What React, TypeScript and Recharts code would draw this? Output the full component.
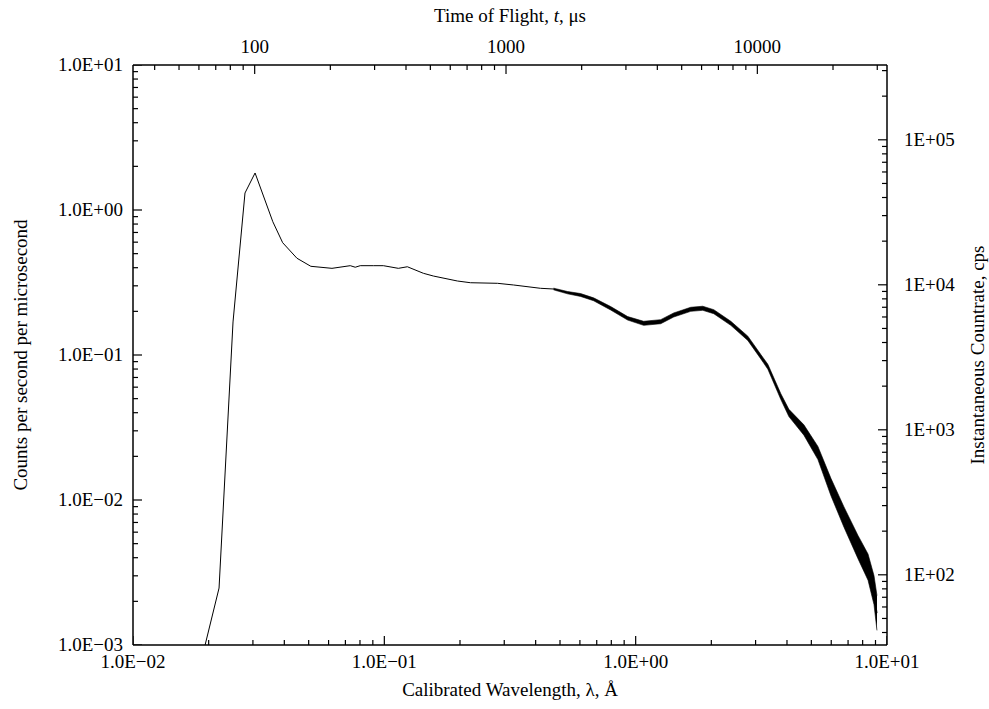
import React from 'react';
import { ComposedChart, Line, Area, Scatter, XAxis, YAxis, Label } from 'recharts';

// wavelength (Å) and counts per second per microsecond
const lambda = [
  0.01936, 0.022, 0.025, 0.0279, 0.0306, 0.036, 0.0394, 0.0449, 0.051, 0.0619,
  0.0732, 0.0766, 0.0802, 0.0904, 0.0991, 0.1137, 0.1235, 0.143, 0.1567, 0.1953,
  0.2202, 0.2819, 0.3265, 0.4182, 0.4713, 0.5359, 0.6037, 0.6802, 0.7954, 0.9292,
  1.076, 1.258, 1.417, 1.656, 1.849, 2.046, 2.391, 2.794, 3.148, 3.357,
  3.782, 4.071, 4.67, 5.311, 5.983, 6.742, 7.665, 8.404, 8.876, 9.124,
];
const counts = [
  0.001, 0.00247, 0.169, 1.31, 1.8, 0.83, 0.595, 0.465, 0.409, 0.396,
  0.413, 0.403, 0.413, 0.413, 0.413, 0.396, 0.406, 0.366, 0.3505, 0.3238,
  0.3151, 0.3122, 0.304, 0.2884, 0.2852, 0.269, 0.2594, 0.2422, 0.21, 0.1791,
  0.1654, 0.1697, 0.1888, 0.2066, 0.21, 0.1989, 0.1654, 0.1303, 0.0973, 0.083,
  0.0516, 0.0398, 0.0304, 0.0211, 0.0123, 0.00763, 0.00474, 0.00345, 0.00239, 0.00166,
];
// spread of the noisy trace (low / high edge)
const bandLo = [
  null, null, null, null, null, null, null, null, null, null,
  null, null, null, null, null, null, null, null, null, null,
  null, null, null, null, 0.2813, 0.2641, 0.2535, 0.2367, 0.2043, 0.1742,
  0.1601, 0.1643, 0.1828, 0.2, 0.2033, 0.1926, 0.1601, 0.1259, 0.094, 0.0798,
  0.0493, 0.0376, 0.028, 0.019, 0.0107, 0.00649, 0.00394, 0.0028, 0.0019, 0.00126,
];
const bandHi = [
  null, null, null, null, null, null, null, null, null, null,
  null, null, null, null, null, null, null, null, null, null,
  null, null, null, null, 0.2892, 0.274, 0.2654, 0.2478, 0.2159, 0.1841,
  0.1708, 0.1753, 0.195, 0.2134, 0.2169, 0.2054, 0.1708, 0.1349, 0.1007, 0.0863,
  0.054, 0.0422, 0.033, 0.0234, 0.0141, 0.00896, 0.0057, 0.00424, 0.00301, 0.00219,
];

const lamTicks = [
  0.01, 0.02, 0.03, 0.04, 0.05, 0.06, 0.07, 0.08, 0.09,
  0.1, 0.2, 0.3, 0.4, 0.5, 0.6, 0.7, 0.8, 0.9,
  1, 2, 3, 4, 5, 6, 7, 8, 9, 10,
];
const lamMajor = [0.01, 0.1, 1, 10];
const lamLabels = ['1.0E\u221202', '1.0E\u221201', '1.0E+00', '1.0E+01'];

const cntTicks = [
  0.001, 0.002, 0.003, 0.004, 0.005, 0.006, 0.007, 0.008, 0.009,
  0.01, 0.02, 0.03, 0.04, 0.05, 0.06, 0.07, 0.08, 0.09,
  0.1, 0.2, 0.3, 0.4, 0.5, 0.6, 0.7, 0.8, 0.9,
  1, 2, 3, 4, 5, 6, 7, 8, 9, 10,
];
const cntMajor = [0.001, 0.01, 0.1, 1, 10];
const cntLabels = ['1.0E\u221203', '1.0E\u221202', '1.0E\u221201', '1.0E+00', '1.0E+01'];

const tofTicks = [
  40, 50, 60, 70, 80, 90, 100, 200, 300, 400, 500, 600, 700, 800, 900,
  1000, 2000, 3000, 4000, 5000, 6000, 7000, 8000, 9000, 10000, 20000, 30000,
];
const tofMajor = [100, 1000, 10000];
const tofLabels = ['100', '1000', '10000'];

const cpsTicks = [
  40, 50, 60, 70, 80, 90, 100, 200, 300, 400, 500, 600, 700, 800, 900,
  1000, 2000, 3000, 4000, 5000, 6000, 7000, 8000, 9000,
  10000, 20000, 30000, 40000, 50000, 60000, 70000, 80000, 90000,
  100000, 200000, 300000,
];
const cpsMajor = [100, 1000, 10000, 100000];
const cpsLabels = ['1E+02', '1E+03', '1E+04', '1E+05'];

const LAM_DOMAIN = [0.01, 10];
const CNT_DOMAIN = [0.001, 10];
const TOF_DOMAIN = [32.8, 32800];
const CPS_DOMAIN = [32.8, 328000];

const rows = lambda.map((lam, i) => ({ lam, cnt: counts[i], lo: bandLo[i], hi: bandHi[i] }));

// tick marks sit on the frame edges, drawn as scatter points through the axis scales
const bottomMarks = lamTicks.map((v) => ({ lam: v, v: CNT_DOMAIN[0], major: lamMajor.includes(v) }));
const leftMarks = cntTicks.map((v) => ({ lam: LAM_DOMAIN[0], v, major: cntMajor.includes(v) }));
const topMarks = tofTicks.map((v) => ({ lam: v, v: CNT_DOMAIN[1], major: tofMajor.includes(v) }));
const rightMarks = cpsTicks.map((v) => ({ lam: LAM_DOMAIN[1], v, major: cpsMajor.includes(v) }));

const FONT = 'Liberation Serif';
const FS = 19;

function TickMark(props: any) {
  const { cx, cy, payload, side } = props;
  if (cx == null || cy == null) return null;
  const len = payload && payload.major ? 9 : 5;
  let d;
  if (side === 'bottom') d = `M${cx},${cy}V${cy - len}`;
  else if (side === 'top') d = `M${cx},${cy}V${cy + len}`;
  else if (side === 'left') d = `M${cx},${cy}H${cx + len}`;
  else d = `M${cx},${cy}H${cx - len}`;
  return <path d={d} stroke="#000" strokeWidth={1.2} fill="none" />;
}

function AxisTick(props: any) {
  const { x, y, payload, side, majors, labels } = props;
  const idx = majors.indexOf(payload.value);
  if (idx < 0) return <g />;
  const tp = { fontFamily: FONT, fontSize: FS, fill: '#000' };
  if (side === 'bottom') return <text x={x} y={y + 23} textAnchor="middle" {...tp}>{labels[idx]}</text>;
  if (side === 'top') return <text x={x} y={y - 12} textAnchor="middle" {...tp}>{labels[idx]}</text>;
  if (side === 'left') return <text x={x - 10} y={y + 6} textAnchor="end" {...tp}>{labels[idx]}</text>;
  return <text x={x + 17} y={y + 6} textAnchor="start" {...tp}>{labels[idx]}</text>;
}

function AxisTitle(props: any) {
  const { viewBox, side, children } = props;
  const { x, y, width, height } = viewBox;
  const tp = { fontFamily: FONT, fontSize: FS, fill: '#000', textAnchor: 'middle' as const };
  if (side === 'bottom') return <text x={x + width / 2} y={y + 51} {...tp}>{children}</text>;
  if (side === 'top') return <text x={x + width / 2} y={y + 22} {...tp}>{children}</text>;
  const cx = side === 'left' ? x + 27 : x + width - 5;
  return (
    <text transform={`translate(${cx} ${y + height / 2}) rotate(-90)`} {...tp}>
      {children}
    </text>
  );
}

const axisCommon = {
  type: 'number' as const,
  scale: 'log' as const,
  allowDataOverflow: true,
  interval: 0 as const,
  tickSize: 0,
  tickMargin: 0,
  tickLine: false,
  axisLine: { stroke: '#000', strokeWidth: 1.5 },
};

export default function App() {
  return (
    <ComposedChart width={989} height={709} data={rows} margin={{ top: 0, right: 0, bottom: 0, left: 0 }} style={{ position: 'absolute', left: 0, top: 0 }}>
      <XAxis
        {...axisCommon}
        xAxisId="lam"
        dataKey="lam"
        domain={LAM_DOMAIN}
        ticks={lamTicks}
        orientation="bottom"
        height={64}
        tick={<AxisTick side="bottom" majors={lamMajor} labels={lamLabels} />}
      >
        <Label content={(p: any) => <AxisTitle {...p} side="bottom">Calibrated Wavelength, λ, Å</AxisTitle>} />
      </XAxis>
      <XAxis
        {...axisCommon}
        xAxisId="tof"
        dataKey="lam"
        domain={TOF_DOMAIN}
        ticks={tofTicks}
        orientation="top"
        height={65}
        tick={<AxisTick side="top" majors={tofMajor} labels={tofLabels} />}
      >
        <Label
          content={(p: any) => (
            <AxisTitle {...p} side="top">
              Time of Flight, <tspan fontStyle="italic">t</tspan>, μs
            </AxisTitle>
          )}
        />
      </XAxis>
      <YAxis
        {...axisCommon}
        yAxisId="cnt"
        domain={CNT_DOMAIN}
        ticks={cntTicks}
        orientation="left"
        width={133}
        tick={<AxisTick side="left" majors={cntMajor} labels={cntLabels} />}
      >
        <Label content={(p: any) => <AxisTitle {...p} side="left">Counts per second per microsecond</AxisTitle>} />
      </YAxis>
      <YAxis
        {...axisCommon}
        yAxisId="cps"
        domain={CPS_DOMAIN}
        ticks={cpsTicks}
        orientation="right"
        width={102}
        tick={<AxisTick side="right" majors={cpsMajor} labels={cpsLabels} />}
      >
        <Label content={(p: any) => <AxisTitle {...p} side="right">Instantaneous Countrate, cps</AxisTitle>} />
      </YAxis>
      {/* hidden series so the secondary axes get rendered */}
      <Line
        xAxisId="tof"
        yAxisId="cps"
        dataKey="cnt"
        stroke="none"
        dot={false}
        activeDot={false}
        isAnimationActive={false}
      />
      <Scatter xAxisId="lam" yAxisId="cnt" data={bottomMarks} dataKey="v" isAnimationActive={false}
        shape={(p: any) => <TickMark {...p} side="bottom" />} />
      <Scatter xAxisId="lam" yAxisId="cnt" data={leftMarks} dataKey="v" isAnimationActive={false}
        shape={(p: any) => <TickMark {...p} side="left" />} />
      <Scatter xAxisId="tof" yAxisId="cnt" data={topMarks} dataKey="v" isAnimationActive={false}
        shape={(p: any) => <TickMark {...p} side="top" />} />
      <Scatter xAxisId="lam" yAxisId="cps" data={rightMarks} dataKey="v" isAnimationActive={false}
        shape={(p: any) => <TickMark {...p} side="right" />} />
      <Area
        xAxisId="lam"
        yAxisId="cnt"
        dataKey={(d: any) => (d.lo == null ? null : [d.lo, d.hi])}
        stroke="#000"
        strokeWidth={0.6}
        fill="#000"
        fillOpacity={1}
        isAnimationActive={false}
      />
      <Line
        xAxisId="lam"
        yAxisId="cnt"
        dataKey="cnt"
        stroke="#000"
        strokeWidth={1}
        dot={false}
        isAnimationActive={false}
      />
    </ComposedChart>
  );
}
